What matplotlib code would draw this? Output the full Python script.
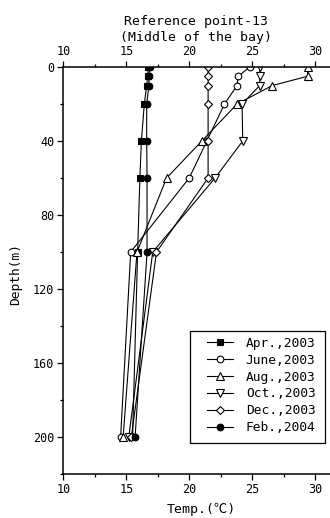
import matplotlib
matplotlib.use("Agg")
import matplotlib.pyplot as plt
from matplotlib.ticker import MultipleLocator
from matplotlib.patches import Rectangle

plt.rcParams['font.family'] = ['DejaVu Sans Mono', 'Noto Sans CJK JP']

depth = [0, 5, 10, 20, 40, 60, 100, 200]
apr_2003 = [16.75, 16.7, 16.62, 16.43, 16.2, 16.08, 15.9, 15.5]
june_2003 = [24.8, 23.9, 23.8, 22.8, 21.4, 20.0, 15.35, 14.55]
aug_2003 = [29.4, 29.4, 26.6, 23.8, 21.0, 18.2, 15.85, 14.75]
oct_2003 = [25.6, 25.6, 25.6, 24.2, 24.25, 22.05, 17.1, 15.2]
dec_2003 = [21.5, 21.5, 21.5, 21.5, 21.5, 21.5, 17.4, 15.4]
feb_2004 = [16.85, 16.8, 16.8, 16.62, 16.62, 16.65, 16.65, 15.7]

series = [
    ("Apr.,2003", apr_2003, 's', 'black'),
    ("June,2003", june_2003, 'o', 'white'),
    ("Aug.,2003", aug_2003, '^', 'white'),
    ("Oct.,2003", oct_2003, 'v', 'white'),
    ("Dec.,2003", dec_2003, 'D', 'white'),
    ("Feb.,2004", feb_2004, 'o', 'black'),
]

marker_sizes = {'s': 4.3, 'o': 4.8, '^': 5.2, 'v': 5.2, 'D': 4.0}

fig = plt.figure(figsize=(3.30, 5.18), dpi=100)
ax = fig.add_axes([0.192, 0.0849, 0.820, 0.7857])

for label, vals, mk, fc in series:
    ax.plot(vals, depth, color='black', lw=0.8, marker=mk,
            ms=marker_sizes[mk], mfc=fc, mec='black', mew=0.8, label=label)

ax.set_xlim(10, 31.5)
ax.set_ylim(220, 0)
ax.xaxis.set_major_locator(MultipleLocator(5))
ax.xaxis.set_minor_locator(MultipleLocator(2.5))
ax.yaxis.set_major_locator(MultipleLocator(40))
ax.yaxis.set_minor_locator(MultipleLocator(20))
ax.tick_params(axis='x', which='both', top=True, bottom=True,
               labeltop=True, labelbottom=True, direction='out', labelsize=8.5)
ax.tick_params(axis='y', which='both', left=True, right=False,
               direction='out', labelsize=8.5)
ax.tick_params(which='major', length=4, width=0.9, pad=2.5)
ax.tick_params(which='minor', length=2.5, width=0.9)
ax.spines['right'].set_visible(False)
for s in ['top', 'left', 'bottom']:
    ax.spines[s].set_linewidth(1.1)

ax.set_ylabel("Depth(m)", fontsize=9.3)
ax.yaxis.set_label_coords(-0.153, 0.491)

fig.text(201 / 330, 1 - 509 / 518, "Temp.(℃)", ha='center', va='center',
         fontsize=9.5)
fig.text(196 / 330, 1 - 21 / 518, "Reference point-13",
         ha='center', va='center', fontsize=9.5)
fig.text(196 / 330, 1 - 37.5 / 518, "(Middle of the bay)",
         ha='center', va='center', fontsize=9.5)

ax.add_patch(Rectangle((0.468, 0.076), 0.967 - 0.468, 0.351 - 0.076,
                       transform=ax.transAxes, fill=True, facecolor='white',
                       edgecolor='black', lw=0.9, zorder=4))
leg = ax.legend(loc='upper left', bbox_to_anchor=(0.531, 0.337),
                borderaxespad=0, borderpad=0, fontsize=9.3, frameon=False,
                handlelength=2.0, handletextpad=1.0, labelspacing=0.3)
leg.set_zorder(5)

fig.savefig("out.png", dpi=100)
